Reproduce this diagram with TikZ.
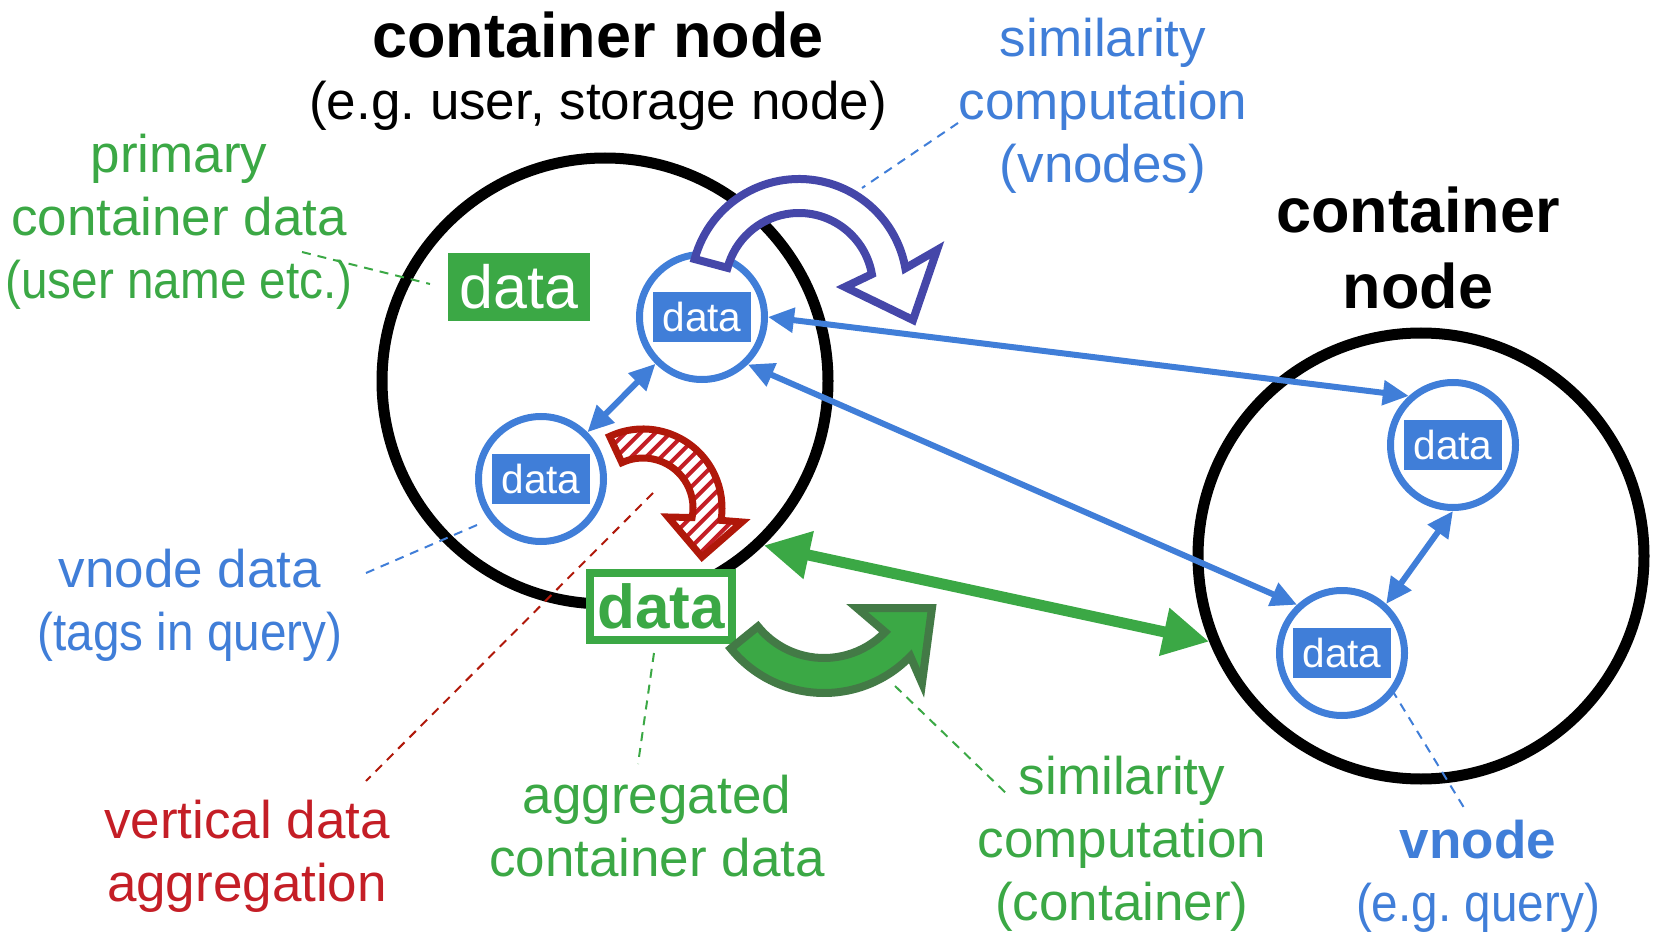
\documentclass[tikz,border=0pt]{standalone}
\usepackage{fontspec}
\setmainfont{Liberation Sans}
\usepackage{graphicx}
\usepackage{tikz}
\usetikzlibrary{arrows.meta}
\frenchspacing

\definecolor{vblue}{RGB}{64,126,216}
\definecolor{cgreen}{RGB}{59,168,69}
\definecolor{cgreendark}{RGB}{67,122,70}
\definecolor{vred}{RGB}{196,30,38}
\definecolor{vreddark}{RGB}{176,24,10}
\definecolor{simpurple}{RGB}{69,71,169}

% narrow line, as in the slide
\newcommand{\narrowline}[1]{\scalebox{0.9}[1]{#1}}

\begin{document}
\begin{tikzpicture}[x=1pt, y=1pt,
    cnode/.style={circle, draw=black, line width=11pt, minimum size=446pt, inner sep=0pt},
    vnode/.style={circle, draw=vblue, line width=7pt, minimum size=125pt, inner sep=0pt},
    vdata/.style={fill=vblue, text=white, minimum width=98pt, minimum height=50pt, inner sep=0pt,
        font=\fontsize{40.6}{48}\selectfont},
    pdata/.style={fill=cgreen, text=white, minimum width=142pt, minimum height=68pt, inner sep=0pt,
        font=\fontsize{61}{70}\selectfont},
    gbox/.style={draw=cgreen, fill=white, line width=8pt, text=cgreen, minimum width=142pt,
        minimum height=67pt, inner sep=0pt, font={\bfseries\fontsize{62}{70}\selectfont}},
    link/.style={draw=vblue, line width=6pt, <->, >={Triangle[length=26pt,width=24pt]}},
    glink/.style={draw=cgreen, line width=11pt, <->, >={Triangle[length=46pt,width=46pt]}},
    simarrow/.style={draw=simpurple, fill=white, line width=8pt},
    aggarrow/.style={draw=vreddark, fill=white, line width=7pt},
    hatch/.style={draw=vred, line width=4pt},
    contarrow/.style={draw=cgreendark, fill=cgreen, line width=8pt},
    leader/.style={line width=2pt, dash pattern=on 9pt off 7pt},
    txt/.style={align=center, inner sep=0pt, font=\fontsize{53}{63}\selectfont},
    ttl/.style={align=center, inner sep=0pt, font={\bfseries\fontsize{63}{76}\selectfont}}]
    \useasboundingbox (0,0) rectangle (1655,-933);

    % container nodes
    \node[cnode] (L) at (605,-381) {};
    \node[cnode] (R) at (1421,-556) {};
    \node[pdata] (prim) at (519,-287) {data};
    \node[gbox] (agg) at (661,-606) {data};

    % vnodes
    \node[vnode] (A) at (702,-317) {};
    \node[vdata] (Ad) at (A) {data};
    \node[vnode] (B) at (541,-479) {};
    \node[vdata] (Bd) at (B) {data};
    \node[vnode] (C) at (1453,-445) {};
    \node[vdata] (Cd) at (C) {data};
    \node[vnode] (D) at (1342,-653) {};
    \node[vdata] (Dd) at (D) {data};

    \draw[link] (A.0) -- (C.132);
    \draw[link] (A.-46) -- (D.133);
    \draw[link] (A) -- (B);
    \draw[link] (C.-90) -- (D.48);
    \draw[glink] (L.-46) -- (R.202);

    % curved arrows
    \begin{scope}[shift={(799,-287)}]
        \draw[simarrow] (165:108) arc[start angle=165, end angle=10, radius=108]
            -- (138,37) -- (114,-33) -- (46,0)
            -- (10:74) arc[start angle=10, end angle=165, radius=74] -- cycle;
    \end{scope}
    \begin{scope}[shift={(643,-508)}]
        \draw[aggarrow, path picture={
                \foreach \k in {-180,-165,...,180}
                    \draw[hatch] ([shift={(\k-130,-130)}]path picture bounding box.center) -- ++(260,260);
            }] (115:79) arc[start angle=115, end angle=-9, radius=79]
            -- (99,-14) -- (59,-49) -- (25,-9)
            -- (-11:50) arc[start angle=-11, end angle=115, radius=50] -- cycle;
    \end{scope}
    \begin{scope}[shift={(824,-573)}]
        \draw[contarrow] (219:120) arc[start angle=219, end angle=316, radius=120]
            -- (98,-110) -- (108,-35) -- (33,-35)
            -- (316:85) arc[start angle=316, end angle=219, radius=85] -- cycle;
    \end{scope}

    % labels
    \node[ttl] (ttl1) at (598,-35) {container node};
    \node[txt] (ttl1sub) at (598,-106) {(e.g. user, storage node)};
    \node[txt, text=cgreen] (primlbl) at (179,-222) {primary\\container data\\\narrowline{(user name etc.)}};
    \node[txt, text=vblue] (simv) at (1103,-106) {similarity\\computation\\(vnodes)};
    \node[ttl] (ttl2) at (1418,-248) {container\\node};
    \node[txt, text=vblue] (vdlbl) at (190,-605) {vnode data\\\narrowline{(tags in query)}};
    \node[txt, text=vred] (vertlbl) at (247,-856) {vertical data\\aggregation};
    \node[txt, text=cgreen] (agglbl) at (657,-826) {aggregated\\container data};
    \node[txt, text=cgreen] (simc) at (1122,-844) {similarity\\computation\\(container)};
    \node[txt, text=vblue] (vnlbl) at (1478,-876) {\textbf{vnode}\\\narrowline{(e.g. query)}};

    % leader lines
    \coordinate (p1) at (302,-252);   \coordinate (p2) at (430,-284);
    \coordinate (s1) at (958,-123);   \coordinate (s2) at (862,-188);
    \coordinate (b1) at (477,-525);   \coordinate (b2) at (366,-573);
    \coordinate (r1) at (653,-493);   \coordinate (r2) at (366,-781);
    \coordinate (g1) at (654,-653);   \coordinate (g2) at (638,-764);
    \coordinate (c1) at (895,-686);   \coordinate (c2) at (1010,-797);
    \coordinate (v1) at (1392,-690);  \coordinate (v2) at (1466,-811);
    \draw[leader, cgreen] (p1) -- (p2);
    \draw[leader, vblue] (s1) -- (s2);
    \draw[leader, vblue] (b1) -- (b2);
    \draw[leader, vreddark] (r1) -- (r2);
    \draw[leader, cgreen] (g1) -- (g2);
    \draw[leader, cgreen] (c1) -- (c2);
    \draw[leader, vblue] (v1) -- (v2);
\end{tikzpicture}
\end{document}
